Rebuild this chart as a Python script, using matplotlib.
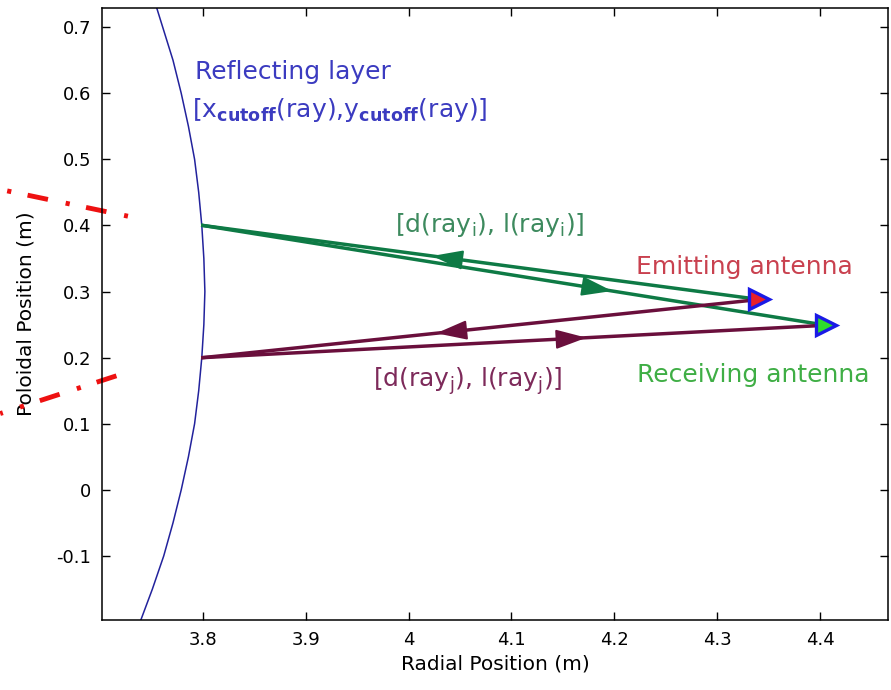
import matplotlib
matplotlib.use('Agg')
import matplotlib.pyplot as plt
import numpy as np

plt.rcParams['font.family'] = ['DejaVu Sans']
plt.rcParams['axes.unicode_minus'] = False
plt.rcParams['lines.scale_dashes'] = False

## Data
# reflecting layer (cutoff) curve
layer_y = [0.73, 0.70, 0.65, 0.60, 0.55, 0.50, 0.45, 0.40, 0.35, 0.30, 0.25,
           0.20, 0.15, 0.10, 0.05, 0.00, -0.05, -0.10, -0.15, -0.20]
layer_x = [3.755, 3.761, 3.771, 3.779, 3.786, 3.792, 3.796, 3.799, 3.801, 3.802,
           3.801, 3.799, 3.796, 3.792, 3.786, 3.779, 3.771, 3.762, 3.751, 3.739]

# antennas and reflection points
emitter = (4.341, 0.288)
receiver = (4.406, 0.249)
reflect_i = (3.800, 0.400)
reflect_j = (3.800, 0.200)

# x position of the arrow tips along each ray leg
arrow_i_back = 4.023   # emitter -> layer (upper green)
arrow_i_fwd = 4.198    # layer -> receiver (lower green)
arrow_j_back = 4.027   # emitter -> layer (upper purple)
arrow_j_fwd = 4.173    # layer -> receiver (lower purple)

# red dash-dot beam edges (outside the axes on the left)
beam_upper = ([3.6098, 3.7272], [0.4523, 0.4140])
beam_lower = ([3.6030, 3.7166], [0.1154, 0.1728])

x_ticks = [3.8, 3.9, 4.0, 4.1, 4.2, 4.3, 4.4]
x_ticklabels = ['3.8', '3.9', '4', '4.1', '4.2', '4.3', '4.4']
y_ticks = [-0.1, 0, 0.1, 0.2, 0.3, 0.4, 0.5, 0.6, 0.7]
y_ticklabels = ['-0.1', '0', '0.1', '0.2', '0.3', '0.4', '0.5', '0.6', '0.7']

green = '#0e7a45'
purple = '#6a0f3c'


def y_on(p0, p1, x):
    # y on the straight segment p0-p1 at x
    return p0[1] + (p1[1] - p0[1]) * (x - p0[0]) / (p1[0] - p0[0])


def add_arrow(ax, p0, p1, x_tip, direction, color):
    # arrowhead on segment p0-p1, pointing to +x (1) or -x (-1)
    x_tail = x_tip - 0.03 * direction
    ax.annotate('', xy=(x_tip, y_on(p0, p1, x_tip)),
                xytext=(x_tail, y_on(p0, p1, x_tail)),
                arrowprops=dict(arrowstyle='-|>,head_length=0.95,head_width=0.3',
                                color=color, lw=1.5, mutation_scale=20,
                                shrinkA=0, shrinkB=0))


fig = plt.figure(figsize=(8.91, 6.90), dpi=100)
ax = fig.add_axes([0.1145, 0.1014, 0.882, 0.887])

# reflecting layer
ax.plot(layer_x, layer_y, color='#22229c', lw=1.1)

# ray i (green)
ax.plot([reflect_i[0], emitter[0]], [reflect_i[1], emitter[1]], color=green, lw=2.5)
ax.plot([reflect_i[0], receiver[0]], [reflect_i[1], receiver[1]], color=green, lw=2.5)
# ray j (purple)
ax.plot([reflect_j[0], emitter[0]], [reflect_j[1], emitter[1]], color=purple, lw=2.5)
ax.plot([reflect_j[0], receiver[0]], [reflect_j[1], receiver[1]], color=purple, lw=2.5)

add_arrow(ax, reflect_i, emitter, arrow_i_back, -1, green)
add_arrow(ax, reflect_i, receiver, arrow_i_fwd, 1, green)
add_arrow(ax, reflect_j, emitter, arrow_j_back, -1, purple)
add_arrow(ax, reflect_j, receiver, arrow_j_fwd, 1, purple)

# antennas
ax.plot(*emitter, marker='>', ms=15, mfc='#e8202a', mec='#1a1ae6', mew=2.4)
ax.plot(*receiver, marker='>', ms=15, mfc='#2edc2e', mec='#1a1ae6', mew=2.4)

# beam edges
ax.plot(*beam_upper, color='#ee1111', lw=3.5, linestyle=(0, (3, 12, 15, 13)),
        clip_on=False)
ax.plot(*beam_lower, color='#ee1111', lw=3.5, linestyle=(28, (3, 12, 15, 13)),
        clip_on=False)

# labels
ax.text(3.792, 0.632, 'Reflecting layer', color='#3b3bc0', fontsize=18, va='center')
ax.text(3.789, 0.564,
        r'[x$_{\mathbf{cutoff}}$(ray),y$_{\mathbf{cutoff}}$(ray)]',
        color='#3b3bc0', fontsize=18, va='baseline')
ax.text(4.079, 0.400, r'[d(ray$_{\mathrm{i}}$), l(ray$_{\mathrm{i}}$)]',
        color='#3d8a5e', fontsize=18, ha='center', va='center')
ax.text(4.221, 0.337, 'Emitting antenna', color='#c9414f', fontsize=18, va='center')
ax.text(4.058, 0.164, r'[d(ray$_{\mathrm{j}}$), l(ray$_{\mathrm{j}}$)]',
        color='#7d2a5a', fontsize=18, ha='center', va='center')
ax.text(4.222, 0.174, 'Receiving antenna', color='#3fae45', fontsize=18, va='center')

# axes
ax.set_xlim(3.702, 4.466)
ax.set_ylim(-0.197, 0.729)
ax.set_xticks(x_ticks)
ax.set_xticklabels(x_ticklabels)
ax.set_yticks(y_ticks)
ax.set_yticklabels(y_ticklabels)
ax.tick_params(direction='in', length=6, width=1, top=True, right=True,
               labelsize=13, pad=8)
for s in ax.spines.values():
    s.set_linewidth(1.1)
ax.set_xlabel('Radial Position (m)', fontsize=14.5, labelpad=4)
ax.set_ylabel('Poloidal Position (m)', fontsize=14.5, labelpad=15)

fig.savefig('out.png', dpi=100)
